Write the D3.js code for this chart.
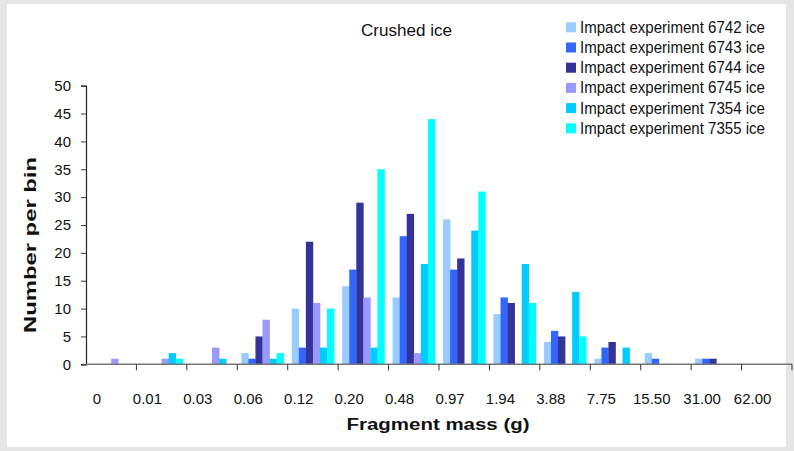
<!DOCTYPE html>
<html>
<head>
<meta charset="utf-8">
<script src="https://cdn.jsdelivr.net/npm/d3@7/dist/d3.min.js"></script>
<style>
  html, body { margin: 0; padding: 0; background: #ffffff; }
  svg { display: block; font-family: "Liberation Sans", Arial, sans-serif; }
</style>
</head>
<body>
<svg id="chart" width="794" height="451"></svg>
<script>
// ---- Data ----
const categories = ["0", "0.01", "0.03", "0.06", "0.12", "0.20", "0.48", "0.97", "1.94", "3.88", "7.75", "15.50", "31.00", "62.00"];
const seriesNames = ["Impact experiment 6742 ice", "Impact experiment 6743 ice", "Impact experiment 6744 ice",
                     "Impact experiment 6745 ice", "Impact experiment 7354 ice", "Impact experiment 7355 ice"];
const s6742 = [0, 0, 0, 2, 10, 14, 12, 26, 9, 4, 1, 2, 1, 0];
const s6743 = [0, 0, 0, 1, 3, 17, 23, 17, 12, 6, 3, 1, 1, 0];
const s6744 = [0, 0, 0, 5, 22, 29, 27, 19, 11, 5, 4, 0, 1, 0];
const s6745 = [1, 1, 3, 8, 11, 12, 2, 0, 0, 0, 0, 0, 0, 0];
const s7354 = [0, 2, 1, 1, 3, 3, 18, 24, 18, 13, 3, 0, 0, 0];
const s7355 = [0, 1, 0, 2, 10, 35, 44, 31, 11, 5, 0, 0, 0, 0];
const yTicks = [0, 5, 10, 15, 20, 25, 30, 35, 40, 45, 50];
const colors = ["#99CCFF", "#3366FF", "#333399", "#9999FF", "#00CCFF", "#00FFFF"];

const seriesValues = [s6742, s6743, s6744, s6745, s7354, s7355];

// ---- Layout ----
const svg = d3.select("#chart");
const W = 794, H = 451;
const plot = { left: 86, right: 792, top: 85.7, bottom: 364.3 };

// background frame
svg.append("rect").attr("x", 0).attr("y", 0).attr("width", W).attr("height", H).attr("fill", "#e6e6e6");
svg.append("rect").attr("x", 7).attr("y", 4).attr("width", 779).attr("height", 443).attr("fill", "#ffffff");

const x0 = d3.scaleBand().domain(categories).range([plot.left, plot.right]).paddingInner(0).paddingOuter(0);
const bw = x0.bandwidth();
const x1 = d3.scaleBand().domain(seriesNames).range([bw * 0.08, bw * 0.92]).padding(0);
const y = d3.scaleLinear().domain([0, 50]).range([plot.bottom, plot.top]);

// bars
const rows = categories.map((c, i) => ({ cat: c, vals: seriesNames.map((s, j) => ({ s, j, v: seriesValues[j][i] })) }));
const g = svg.append("g");
g.selectAll("g.grp").data(rows).join("g")
  .attr("class", "grp")
  .attr("transform", d => `translate(${x0(d.cat)},0)`)
  .selectAll("rect").data(d => d.vals.filter(e => e.v > 0)).join("rect")
  .attr("x", d => x1(d.s))
  .attr("width", x1.bandwidth() + 0.3)
  .attr("y", d => y(d.v))
  .attr("height", d => y(0) - y(d.v))
  .attr("fill", d => colors[d.j]);

// y axis
const yAxis = d3.axisLeft(y).tickValues(yTicks).tickSize(5).tickPadding(10).tickFormat(d3.format("d"));
const yg = svg.append("g").attr("transform", `translate(${plot.left},0)`).call(yAxis);
yg.select(".domain").attr("stroke", "#222").attr("stroke-width", 1.2);
yg.selectAll(".tick line").attr("stroke", "#333");
yg.selectAll(".tick text").attr("font-size", 15).attr("fill", "#111").attr("font-family", "Liberation Sans, Arial, sans-serif");

// x axis (labels)
const xAxis = d3.axisBottom(x0).tickSize(0).tickPadding(0);
const xg = svg.append("g").attr("transform", `translate(0,${plot.bottom})`).call(xAxis);
xg.select(".domain").remove();
xg.selectAll(".tick text")
  .attr("font-size", 15).attr("fill", "#111").attr("font-family", "Liberation Sans, Arial, sans-serif")
  .attr("y", 40).attr("dy", 0)
  .attr("dx", -bw / 2 + 11);

// x axis line and boundary ticks
const edges = categories.map(c => x0(c)).concat([plot.right]);
svg.append("line").attr("x1", plot.left).attr("x2", plot.right).attr("y1", plot.bottom).attr("y2", plot.bottom)
  .attr("stroke", "#777").attr("stroke-width", 1.6);
svg.append("g").selectAll("line").data(edges.slice(1)).join("line")
  .attr("x1", d => d).attr("x2", d => d).attr("y1", plot.bottom).attr("y2", plot.bottom + 6)
  .attr("stroke", "#333").attr("stroke-width", 1);

// titles
svg.append("text").attr("x", 406.5).attr("y", 36).attr("text-anchor", "middle")
  .attr("font-size", 16).attr("fill", "#111").attr("textLength", 91).attr("lengthAdjust", "spacingAndGlyphs")
  .text("Crushed ice");
svg.append("text").attr("x", 438).attr("y", 430).attr("text-anchor", "middle")
  .attr("font-size", 16).attr("font-weight", "bold").attr("fill", "#111")
  .attr("textLength", 183).attr("lengthAdjust", "spacingAndGlyphs")
  .text("Fragment mass (g)");
svg.append("text").attr("transform", "translate(36,245) rotate(-90)").attr("text-anchor", "middle")
  .attr("font-size", 17).attr("font-weight", "bold").attr("fill", "#111")
  .attr("textLength", 176).attr("lengthAdjust", "spacingAndGlyphs")
  .text("Number per bin");

// legend
const lg = svg.append("g").selectAll("g").data(seriesNames).join("g")
  .attr("transform", (d, i) => `translate(566,${27.3 + i * 20.2})`);
lg.append("rect").attr("x", 0).attr("y", -5).attr("width", 10).attr("height", 10).attr("fill", (d, i) => colors[i]);
lg.append("text").attr("x", 14).attr("y", 5.5).attr("font-size", 16).attr("fill", "#111")
  .attr("textLength", 185).attr("lengthAdjust", "spacingAndGlyphs")
  .text(d => d);
</script>
</body>
</html>
